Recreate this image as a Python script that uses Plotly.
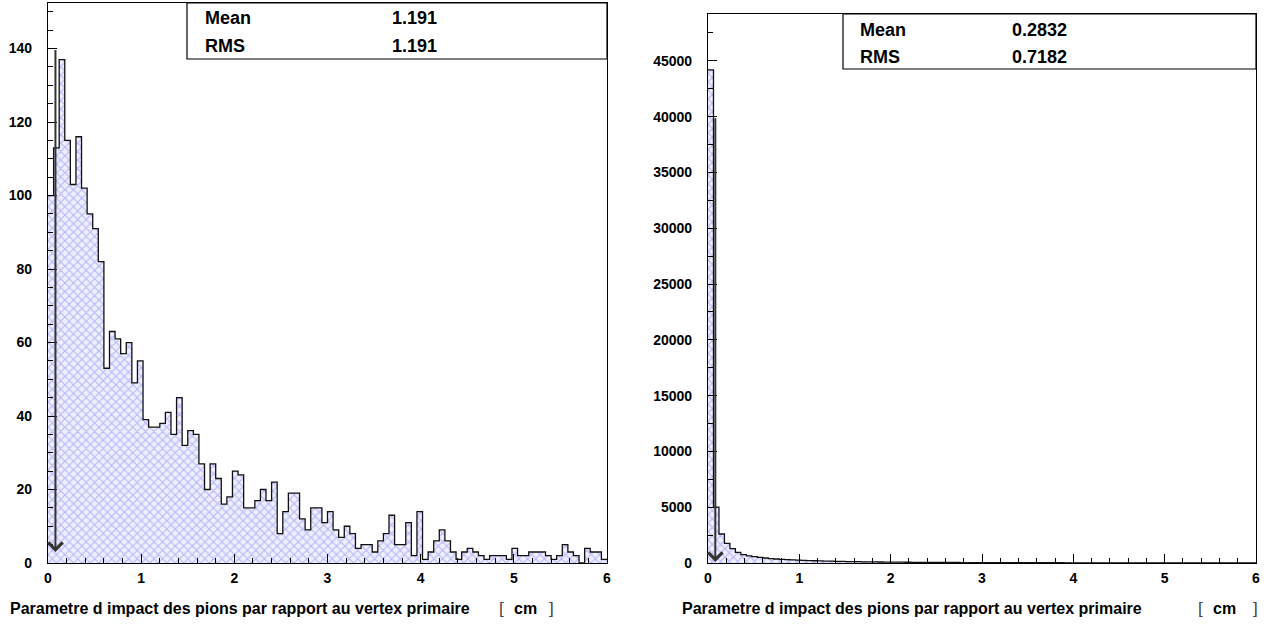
import plotly.graph_objects as go

# ---------------- data ----------------
bin_width = 0.06
n_bins = 100
edges = [round(i * bin_width, 4) for i in range(n_bins + 1)]
centers = [round((i + 0.5) * bin_width, 4) for i in range(n_bins)]

left_counts = [
    100, 113, 137, 115, 103, 116, 102, 95, 91, 82,
    53, 63, 61, 57, 60, 49, 55, 39, 37, 37,
    38, 41, 35, 45, 32, 36, 35, 27, 20, 27,
    23, 16, 18, 25, 24, 15, 15, 17, 20, 17,
    22, 8, 14, 19, 19, 12, 9, 15, 15, 11,
    14, 9, 7, 10, 8, 4, 5, 5, 3, 6,
    8, 13, 5, 5, 11, 2, 14, 1, 3, 6,
    9, 6, 3, 1, 3, 4, 3, 2, 1, 2,
    2, 2, 1, 4, 2, 2, 3, 3, 3, 2,
    1, 2, 5, 3, 2, 0, 4, 3, 3, 1,
]

right_counts = [
    44200, 5000, 2600, 1760, 1290, 960, 750, 630, 570, 510,
    450, 400, 360, 330, 300, 275, 250, 230, 215, 200,
    185, 170, 160, 150, 140, 130, 122, 115, 108, 100,
    95, 90, 84, 80, 76, 72, 68, 64, 61, 58,
    55, 52, 50, 48, 45, 43, 41, 40, 38, 36,
    35, 33, 32, 31, 30, 28, 27, 26, 25, 24,
    24, 23, 22, 21, 21, 20, 19, 19, 18, 18,
    17, 17, 16, 16, 15, 15, 14, 14, 14, 13,
    13, 12, 12, 12, 11, 11, 11, 10, 10, 10,
    9, 9, 9, 9, 8, 8, 8, 8, 7, 7,
]

stat_names = ["Mean", "RMS"]
left_stats = ["1.191", "1.191"]
right_stats = ["0.2832", "0.7182"]
x_title = "Parametre d impact des pions par rapport au vertex primaire"
x_unit = "cm"
cut_x = 0.08
left_arrow = [140, 3]
right_arrow = [40000, 100]
left_yticks = [0, 20, 40, 60, 80, 100, 120, 140]
right_yticks = [0, 5000, 10000, 15000, 20000, 25000, 30000, 35000, 40000, 45000]
x_ticks = [0, 1, 2, 3, 4, 5, 6]

# ---------------- figure ----------------
W, H = 1271, 627
FONT = "Liberation Sans, Arial, sans-serif"

def px_x(p):
    return p / W

def px_y(p):
    return (H - p) / H

fig = go.Figure()

pattern = dict(shape="x", fgcolor="#7f80ee", bgcolor="#eeeeff", size=6, solidity=0.35)

for counts, xa, ya in [(left_counts, "x", "y"), (right_counts, "x2", "y2")]:
    fig.add_trace(go.Bar(
        x=centers, y=counts, width=bin_width,
        marker=dict(color="#eeeeff", pattern=pattern, line=dict(width=0)),
        xaxis=xa, yaxis=ya, hoverinfo="skip", showlegend=False,
    ))
    fig.add_trace(go.Scatter(
        x=edges, y=counts + [counts[-1]], mode="lines",
        line=dict(shape="hv", color="#111111", width=1.3),
        xaxis=xa, yaxis=ya, hoverinfo="skip", showlegend=False,
    ))

tickfont = dict(family=FONT, size=14, color="black", weight="bold")

def xaxis_cfg(domain, anchor):
    return dict(
        domain=domain, anchor=anchor, range=[0, 6], tickvals=x_ticks,
        ticks="inside", ticklen=9, tickwidth=1, tickcolor="black",
        minor=dict(dtick=0.2, ticks="inside", ticklen=5, tickcolor="black"),
        showline=True, linecolor="black", linewidth=1.2, mirror=True,
        showgrid=False, zeroline=False, tickfont=tickfont, ticklabelstandoff=2,
        automargin=False,
    )

def yaxis_cfg(domain, anchor, rng, tickvals, minor_dtick):
    return dict(
        domain=domain, anchor=anchor, range=rng, tickvals=tickvals, tickformat="d",
        ticks="inside", ticklen=9, tickwidth=1, tickcolor="black",
        minor=dict(dtick=minor_dtick, ticks="inside", ticklen=5, tickcolor="black"),
        showline=True, linecolor="black", linewidth=1.2, mirror=True,
        showgrid=False, zeroline=False, tickfont=tickfont, ticklabelstandoff=12,
        automargin=False,
    )

fig.update_layout(
    width=W, height=H,
    margin=dict(l=0, r=0, t=0, b=0, autoexpand=False),
    paper_bgcolor="white", plot_bgcolor="white",
    bargap=0, barmode="overlay",
    xaxis=xaxis_cfg([px_x(48), px_x(607)], "y"),
    yaxis=yaxis_cfg([px_y(563), px_y(3)], "x", [0, 152.4], left_yticks, 5),
    xaxis2=xaxis_cfg([px_x(708), px_x(1256)], "y2"),
    yaxis2=yaxis_cfg([px_y(563), px_y(14)], "x2", [0, 49200], right_yticks, 2500),
)

annotations = []
shapes = []

# cut arrows
for (y_start, y_end), xr, yr in [(left_arrow, "x", "y"), (right_arrow, "x2", "y2")]:
    annotations.append(dict(
        x=cut_x, y=y_end, ax=cut_x, ay=y_start, xref=xr, yref=yr, axref=xr, ayref=yr,
        text="", showarrow=True, arrowhead=4, arrowsize=1.4, arrowwidth=2,
        arrowcolor="#333333",
    ))

# statistics boxes
boxes = [
    (187, 607, 3, 59, 203, 390, [18.5, 46], left_stats),
    (843, 1256, 14, 69, 858, 1010, [29.5, 56.5], right_stats),
]
for x0, x1, y0, y1, name_x, val_x, rows, vals in boxes:
    shapes.append(dict(type="rect", xref="paper", yref="paper",
                       x0=px_x(x0), x1=px_x(x1), y0=px_y(y1), y1=px_y(y0),
                       line=dict(color="black", width=1.2), fillcolor="white", layer="above"))
    for name, val, ry in zip(stat_names, vals, rows):
        annotations.append(dict(x=px_x(name_x), y=px_y(ry), xref="paper", yref="paper",
                                text=name, showarrow=False, xanchor="left", yanchor="middle",
                                font=dict(family=FONT, size=18, color="black", weight="bold")))
        annotations.append(dict(x=px_x(val_x), y=px_y(ry), xref="paper", yref="paper",
                                text=val, showarrow=False, xanchor="left", yanchor="middle",
                                font=dict(family=FONT, size=18, color="black", weight="bold")))

# x titles
for start, br_l, unit_x, br_r in [(8, 497, 512, 547), (680, 1196, 1211, 1251)]:
    annotations.append(dict(x=px_x(start), y=px_y(608), xref="paper", yref="paper",
                            text=x_title, showarrow=False, xanchor="left", yanchor="middle",
                            font=dict(family=FONT, size=16, color="black", weight="bold")))
    annotations.append(dict(x=px_x(br_l), y=px_y(608), xref="paper", yref="paper",
                            text="[", showarrow=False, xanchor="left", yanchor="middle",
                            font=dict(family=FONT, size=17, color="#444444")))
    annotations.append(dict(x=px_x(unit_x), y=px_y(608), xref="paper", yref="paper",
                            text=x_unit, showarrow=False, xanchor="left", yanchor="middle",
                            font=dict(family=FONT, size=16, color="black", weight="bold")))
    annotations.append(dict(x=px_x(br_r), y=px_y(608), xref="paper", yref="paper",
                            text="]", showarrow=False, xanchor="left", yanchor="middle",
                            font=dict(family=FONT, size=17, color="#444444")))

fig.update_layout(annotations=annotations, shapes=shapes)
# remove the default 8px body margin so the figure fills the window exactly
fig.write_html(
    "out.html",
    config={"displayModeBar": False},
    post_script="document.body.style.margin='0';document.body.style.padding='0';"
                "document.body.style.overflow='hidden';",
)
